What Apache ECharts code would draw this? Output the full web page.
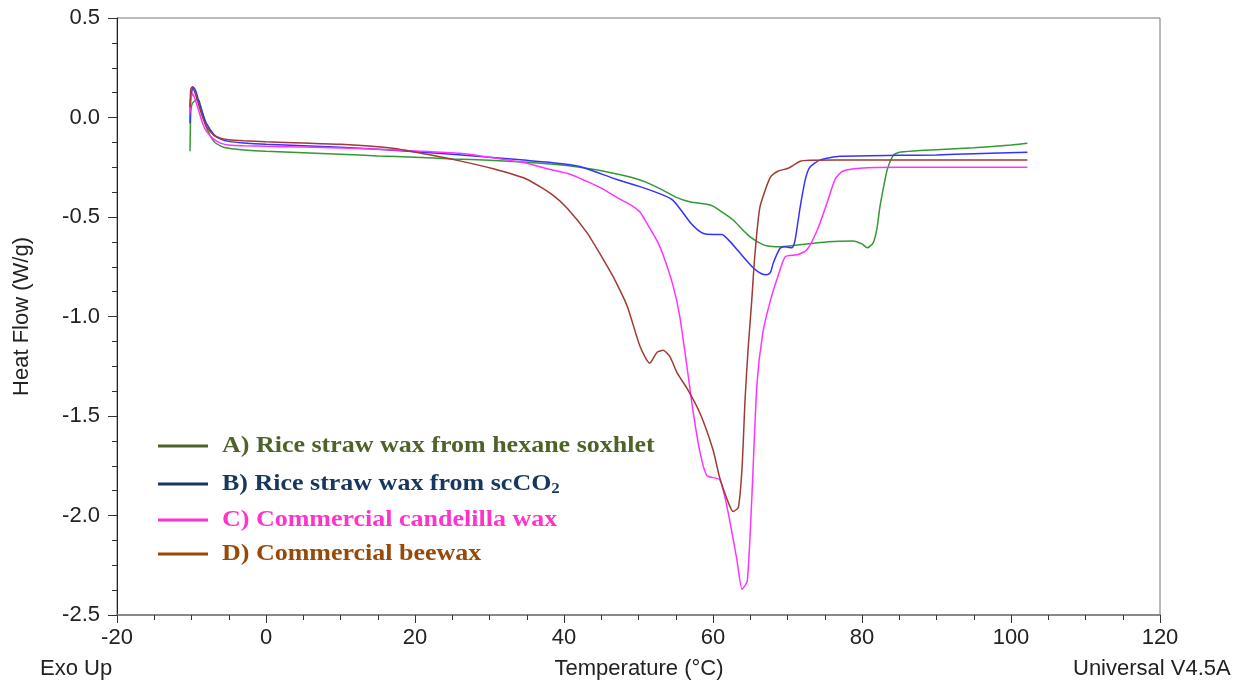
<!DOCTYPE html>
<html>
<head>
<meta charset="utf-8">
<title>DSC heat flow of waxes</title>
<script src="https://cdn.jsdelivr.net/npm/echarts@6/dist/echarts.min.js"></script>
<style>
  html, body { margin: 0; padding: 0; background: #fff; }
  #chart { width: 1235px; height: 688px; }
</style>
</head>
<body>
<div id="chart"></div>
<script>
// Axis ranges and tick labels
const xTicks = [-20, 0, 20, 40, 60, 80, 100, 120];
const yTicks = [-2.5, -2.0, -1.5, -1.0, -0.5, 0.0, 0.5];

// A) Rice straw wax from hexane soxhlet
const tempA = [-10.2, -10.1, -9.9, -9.3, -9.0, -8.5, -8.0, -7.0, -6.0, -5.0, -3, 0, 5, 10, 15, 20, 25, 30, 35, 40, 43, 46, 49, 51, 53, 55, 57, 59, 60, 61, 62.7, 64, 65, 66, 67.2, 69, 71, 74.4, 77, 78.8, 80, 80.7, 81.5, 82, 82.4, 83, 83.4, 84.2, 85, 87, 90, 95, 100, 102.2];
const flowA = [-0.17, 0.02, 0.07, 0.09, 0.085, 0.02, -0.05, -0.12, -0.145, -0.155, -0.163, -0.17, -0.177, -0.185, -0.193, -0.2, -0.208, -0.215, -0.225, -0.24, -0.255, -0.275, -0.3, -0.325, -0.36, -0.4, -0.425, -0.435, -0.445, -0.47, -0.515, -0.565, -0.6, -0.625, -0.645, -0.65, -0.642, -0.628, -0.622, -0.62, -0.635, -0.655, -0.63, -0.56, -0.45, -0.33, -0.26, -0.19, -0.175, -0.168, -0.162, -0.152, -0.138, -0.13];

// B) Rice straw wax from scCO2
const tempB = [-10.2, -10.15, -10.0, -9.8, -9.5, -9.0, -8.5, -8.0, -7.0, -6.0, -5.0, -3, 0, 5, 10, 15, 20, 25, 30, 35, 38, 42, 44, 47, 50, 53, 54.6, 56, 57, 58.3, 59.2, 61.2, 62.2, 63.6, 65.4, 66.5, 67.2, 67.7, 68.1, 69, 69.7, 70.6, 71, 71.7, 72.4, 73, 74.4, 77, 85, 90, 95, 102.2];
const flowB = [-0.03, 0.08, 0.12, 0.155, 0.14, 0.08, 0.02, -0.03, -0.085, -0.11, -0.12, -0.128, -0.135, -0.142, -0.15, -0.16, -0.172, -0.185, -0.2, -0.215, -0.225, -0.245, -0.27, -0.31, -0.345, -0.385, -0.415, -0.48, -0.53, -0.575, -0.587, -0.588, -0.62, -0.68, -0.755, -0.785, -0.79, -0.78, -0.73, -0.657, -0.65, -0.655, -0.62, -0.45, -0.31, -0.25, -0.213, -0.195, -0.19, -0.188, -0.182, -0.175];

// C) Commercial candelilla wax
const tempC = [-10.2, -10.1, -9.9, -9.6, -9.0, -8.5, -8.0, -7.0, -6.0, -5.0, -3, 0, 5, 10, 15, 20, 26, 30, 35, 38, 40.8, 43, 45, 47.5, 49, 50.2, 51.1, 52.5, 53.3, 54.6, 55.5, 56.5, 57.3, 58.3, 59.2, 60.9, 61.9, 63.2, 63.9, 64.6, 65.2, 65.9, 66.7, 67.7, 68.7, 69.7, 71.3, 72.6, 74, 75.3, 76.4, 77.4, 79.7, 85, 102.2];
const flowC = [0.02, 0.08, 0.12, 0.1, 0.03, -0.03, -0.07, -0.11, -0.13, -0.138, -0.142, -0.145, -0.148, -0.153, -0.16, -0.168, -0.18, -0.2, -0.23, -0.26, -0.285, -0.32, -0.355, -0.41, -0.44, -0.475, -0.53, -0.62, -0.69, -0.84, -0.99, -1.25, -1.47, -1.69, -1.8, -1.82, -1.96, -2.22, -2.37, -2.33, -1.92, -1.34, -1.08, -0.92, -0.8, -0.7, -0.69, -0.665, -0.565, -0.43, -0.31, -0.27, -0.255, -0.25, -0.25];

// D) Commercial beewax
const tempD = [-10.2, -10.1, -9.9, -9.5, -9.0, -8.5, -8.0, -7.0, -6.0, -5.0, -3, 0, 5, 10, 17, 21.6, 26, 30.5, 35, 38.5, 40.4, 43.1, 45.3, 46.6, 48.5, 50.2, 51.5, 52.5, 53.3, 54.2, 55.2, 56.5, 58.3, 60, 60.9, 61.9, 62.7, 63.4, 63.9, 64.3, 64.7, 65.2, 65.6, 66.3, 67.7, 68.7, 70.1, 71.7, 73, 80, 102.2];
const flowD = [0.05, 0.14, 0.155, 0.12, 0.06, 0.0, -0.045, -0.09, -0.105, -0.112, -0.117, -0.122, -0.128, -0.135, -0.155, -0.185, -0.218, -0.258, -0.31, -0.39, -0.455, -0.58, -0.715, -0.8, -0.95, -1.15, -1.235, -1.18, -1.17, -1.2, -1.285, -1.36, -1.49, -1.67, -1.81, -1.92, -1.98, -1.96, -1.76, -1.42, -1.17, -0.92, -0.7, -0.45, -0.3, -0.27, -0.255, -0.22, -0.215, -0.213, -0.213];

const seriesNames = [
  'A) Rice straw wax from hexane soxhlet',
  'B) Rice straw wax from scCO2',
  'C) Commercial candelilla wax',
  'D) Commercial beewax'
];
const lineColors = ['#339933', '#3333ff', '#ff33ff', '#a03a32'];
const legendColors = ['#4f6228', '#17375e', '#ff33cc', '#984807'];

function pairs(xs, ys) {
  return xs.map((x, i) => [x, ys[i]]);
}

const seriesData = [pairs(tempA, flowA), pairs(tempB, flowB), pairs(tempC, flowC), pairs(tempD, flowD)];

const axisFont = { fontFamily: 'Liberation Sans, Arial, sans-serif', fontSize: 22, color: '#222' };
const legendFont = 'bold 23px "Liberation Serif", "Times New Roman", serif';

// Hand-placed legend block (lines + bold serif captions, slightly widened)
const legendRows = [
  { y: 446, text: 'A) Rice straw wax from hexane soxhlet' },
  { y: 484, text: 'B) Rice straw wax from scCO{sub|2}' },
  { y: 520, text: 'C) Commercial candelilla wax' },
  { y: 554, text: 'D) Commercial beewax' }
];
const legendGraphics = [];
legendRows.forEach((row, i) => {
  legendGraphics.push({
    type: 'line', z: 10,
    shape: { x1: 158, y1: row.y, x2: 208, y2: row.y },
    style: { stroke: legendColors[i], lineWidth: 3 }
  });
  legendGraphics.push({
    type: 'text', z: 10, x: 222, y: row.y, scaleX: 1.13,
    style: {
      text: row.text,
      fill: legendColors[i],
      font: legendFont,
      verticalAlign: 'middle',
      rich: {
        sub: {
          fill: legendColors[i],
          font: 'bold 15px "Liberation Serif", "Times New Roman", serif',
          padding: [11, 0, 0, 0]
        }
      }
    }
  });
});

const chart = echarts.init(document.getElementById('chart'), null, { renderer: 'canvas' });

chart.setOption({
  animation: false,
  backgroundColor: '#fff',
  grid: {
    left: 117, right: 75, top: 18, bottom: 73,
    show: true, borderColor: '#777', borderWidth: 1
  },
  xAxis: {
    type: 'value',
    min: xTicks[0], max: xTicks[xTicks.length - 1], interval: 20,
    axisLine: { show: true, onZero: false, lineStyle: { color: '#888', width: 2 } },
    axisTick: { show: true, length: 8, lineStyle: { color: '#333' } },
    minorTick: { show: true, splitNumber: 4, length: 5, lineStyle: { color: '#333' } },
    splitLine: { show: false },
    axisLabel: Object.assign({ margin: 12 }, axisFont)
  },
  yAxis: {
    type: 'value',
    min: yTicks[0], max: yTicks[yTicks.length - 1], interval: 0.5,
    axisLine: { show: true, onZero: false, lineStyle: { color: '#222', width: 1 } },
    axisTick: { show: true, length: 9, lineStyle: { color: '#333' } },
    minorTick: { show: true, splitNumber: 4, length: 5, lineStyle: { color: '#333' } },
    splitLine: { show: false },
    axisLabel: Object.assign({ margin: 17, formatter: v => v.toFixed(1) }, axisFont),
    name: 'Heat Flow (W/g)',
    nameLocation: 'middle',
    nameGap: 84,
    nameTextStyle: axisFont
  },
  series: seriesData.map((d, i) => ({
    name: seriesNames[i],
    type: 'line',
    data: d,
    showSymbol: false,
    smooth: 0.2,
    lineStyle: { color: lineColors[i], width: 1.5 },
    z: 2 + i
  })),
  graphic: legendGraphics.concat([
    {
      type: 'text', x: 40, y: 669,
      style: { text: 'Exo Up', font: '22px "Liberation Sans", Arial, sans-serif', fill: '#222', verticalAlign: 'middle' }
    },
    {
      type: 'text', x: 639, y: 669,
      style: { text: 'Temperature (°C)', font: '22px "Liberation Sans", Arial, sans-serif', fill: '#222', align: 'center', verticalAlign: 'middle' }
    },
    {
      type: 'text', x: 1073, y: 669,
      style: { text: 'Universal V4.5A TA Instruments', font: '22px "Liberation Sans", Arial, sans-serif', fill: '#222', verticalAlign: 'middle' }
    }
  ])
});
</script>
</body>
</html>
